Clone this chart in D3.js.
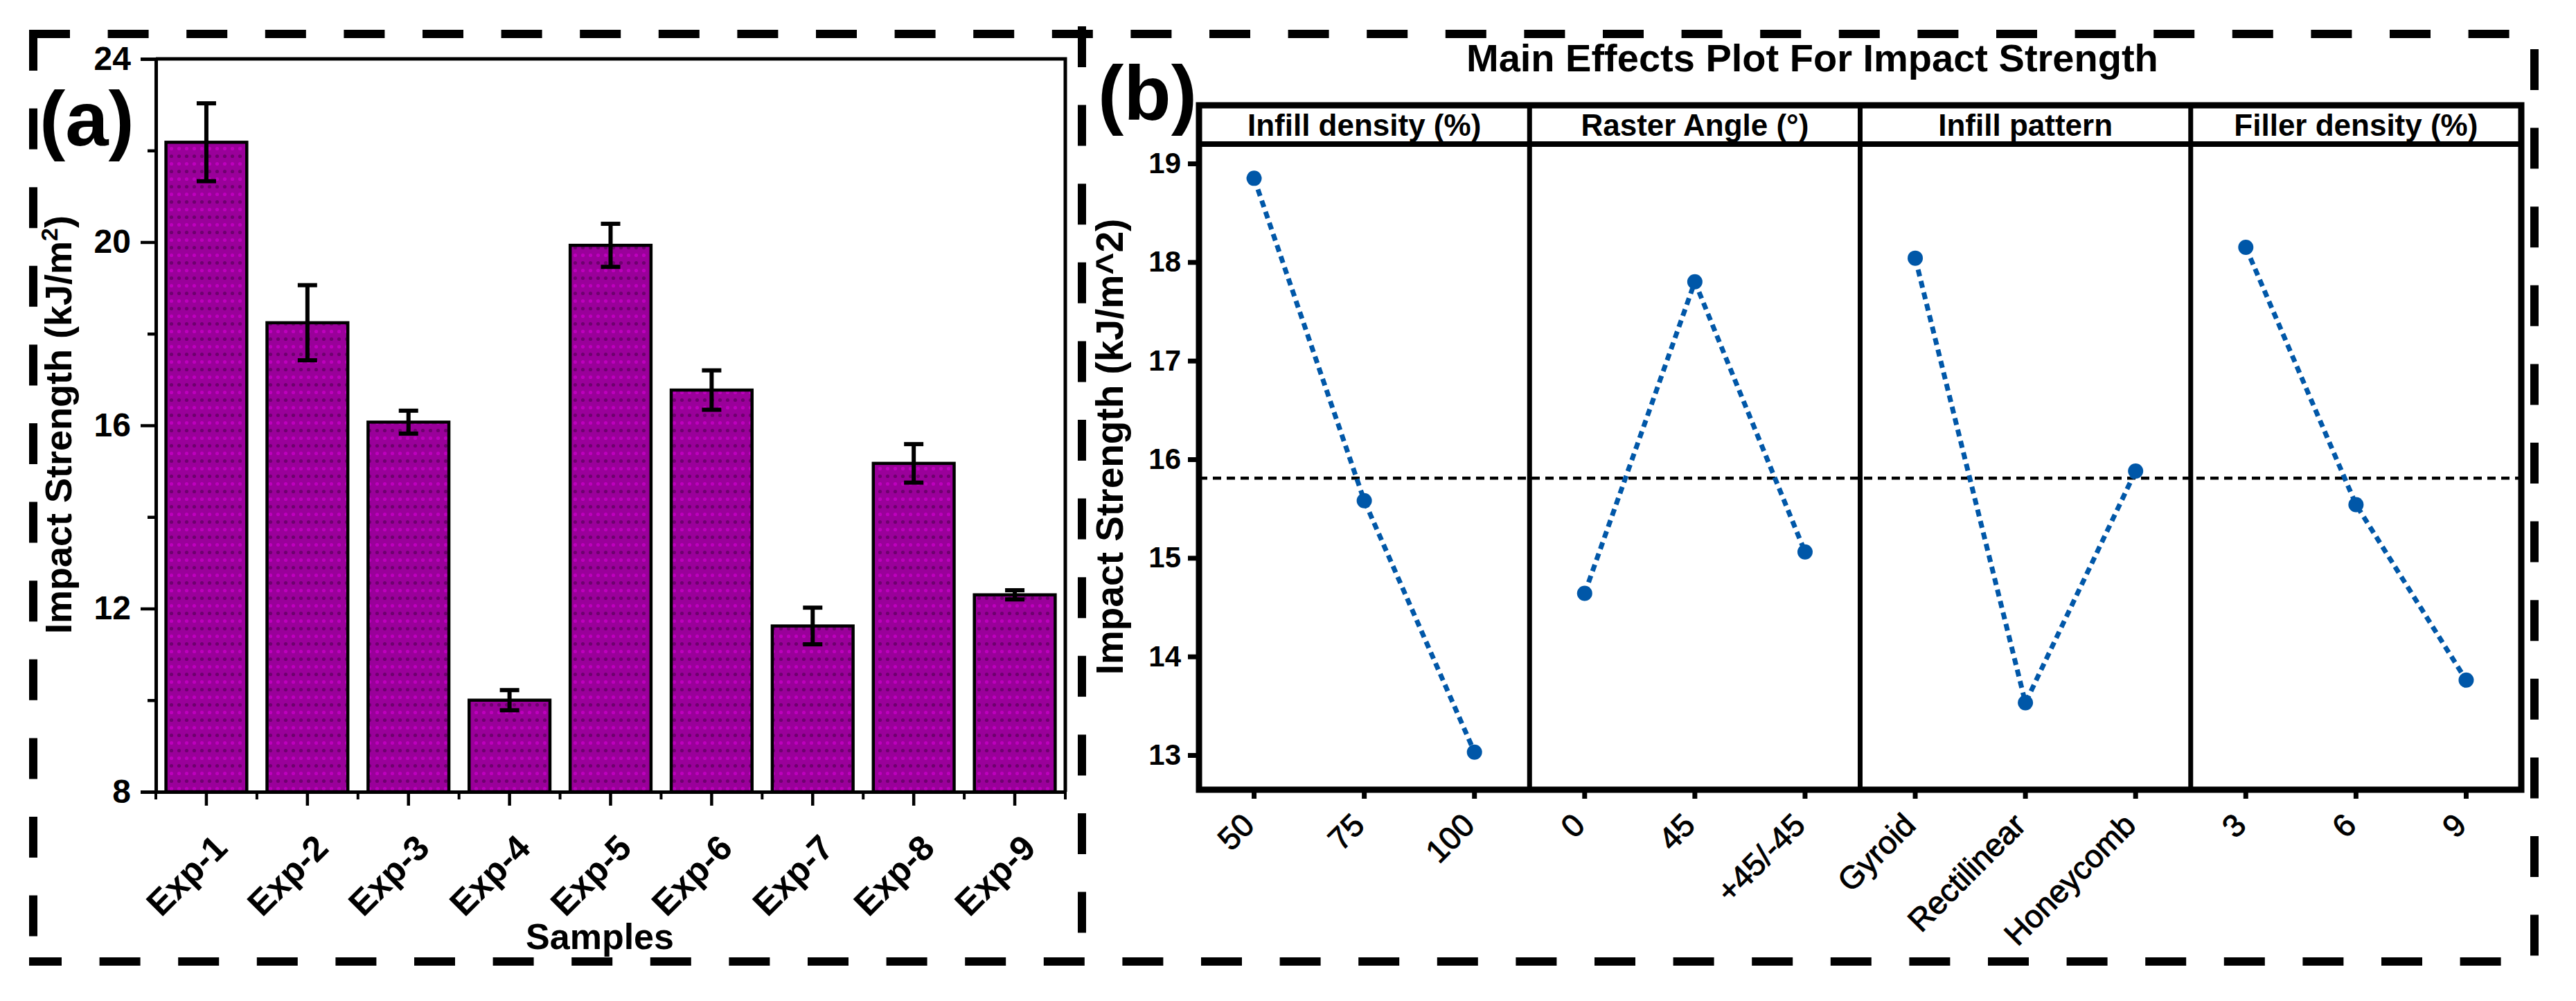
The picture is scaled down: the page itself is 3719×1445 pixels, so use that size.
<!DOCTYPE html>
<html>
<head>
<meta charset="utf-8">
<script src="https://cdn.jsdelivr.net/npm/d3@7"></script>
<style>
  body { margin: 0; background: #fff; }
  text { font-family: "Liberation Sans", Arial, sans-serif; }
</style>
</head>
<body>
<div id="chart"></div>
<script>
// ---- data ----
var samples = ["Exp-1", "Exp-2", "Exp-3", "Exp-4", "Exp-5", "Exp-6", "Exp-7", "Exp-8", "Exp-9"];
var impact = [22.18, 18.24, 16.07, 10.0, 19.93, 16.77, 11.62, 15.17, 12.30];
var impactErr = [0.85, 0.82, 0.25, 0.22, 0.47, 0.43, 0.40, 0.42, 0.10];
var yTicksA = [8, 12, 16, 20, 24];
var yMinorA = [10, 14, 18, 22];

var factors = ["Infill density (%)", "Raster Angle (°)", "Infill pattern", "Filler density (%)"];
var factorLevels = [["50", "75", "100"], ["0", "45", "+45/-45"], ["Gyroid", "Rectilinear", "Honeycomb"], ["3", "6", "9"]];
var factorMeans = [[18.85, 15.58, 13.03], [14.64, 17.80, 15.06], [18.04, 13.53, 15.88], [18.15, 15.54, 13.76]];
var yTicksB = [13, 14, 15, 16, 17, 18, 19];

var W = 3719, H = 1445;

var svg = d3.select("#chart").append("svg")
    .attr("width", W)
    .attr("height", H);

// bar fill pattern (dotted purple)
var defs = svg.append("defs");
var pat = defs.append("pattern")
    .attr("id", "dots")
    .attr("patternUnits", "userSpaceOnUse")
    .attr("width", 22)
    .attr("height", 22);
pat.append("rect").attr("width", 22).attr("height", 22).attr("fill", "#9a009a");
pat.append("circle").attr("cx", 5.5).attr("cy", 5.5).attr("r", 2.6).attr("fill", "#6f006f");
pat.append("circle").attr("cx", 16.5).attr("cy", 5.5).attr("r", 2.6).attr("fill", "#6f006f");
pat.append("circle").attr("cx", 5.5).attr("cy", 16.5).attr("r", 2.6).attr("fill", "#bd00bd");
pat.append("circle").attr("cx", 16.5).attr("cy", 16.5).attr("r", 2.6).attr("fill", "#bd00bd");

// ---- dashed outer border ----
var border = svg.append("g")
    .attr("fill", "none")
    .attr("stroke", "#000")
    .attr("stroke-width", 12)
    .attr("stroke-dasharray", "59 54.6");
border.append("path").attr("d", "M42,49 H3626");
border.append("path").attr("d", "M48,43 V1360");
border.append("path").attr("d", "M42,1388 H3660").attr("stroke-dashoffset", 12);
border.append("path").attr("d", "M3659,71 V1390");
border.append("path").attr("d", "M1562,38 V1348");

// ****************** panel (a) ***************************
var ax0 = 225, ax1 = 1538, ayTop = 85, ayBot = 1143;

var xa = d3.scaleBand()
    .domain(samples)
    .range([ax0, ax1])
    .paddingInner(0.2)
    .paddingOuter(0.1);

var ya = d3.scaleLinear()
    .domain([8, 24])
    .range([ayBot, ayTop]);

var ga = svg.append("g");

ga.selectAll("rect.bar")
    .data(samples)
    .enter().append("rect")
    .attr("class", "bar")
    .attr("x", function(d) { return xa(d); })
    .attr("width", xa.bandwidth())
    .attr("y", function(d, i) { return ya(impact[i]); })
    .attr("height", function(d, i) { return ya(8) - ya(impact[i]); })
    .attr("fill", "url(#dots)")
    .attr("stroke", "#000")
    .attr("stroke-width", 4.5);

// error bars
var err = ga.selectAll("g.err")
    .data(samples)
    .enter().append("g")
    .attr("class", "err")
    .attr("stroke", "#000")
    .attr("stroke-width", 6);
err.append("line")
    .attr("x1", function(d) { return xa(d) + xa.bandwidth() / 2; })
    .attr("x2", function(d) { return xa(d) + xa.bandwidth() / 2; })
    .attr("y1", function(d, i) { return ya(impact[i] + impactErr[i]); })
    .attr("y2", function(d, i) { return ya(impact[i] - impactErr[i]); });
[1, -1].forEach(function(s) {
  err.append("line")
      .attr("x1", function(d) { return xa(d) + xa.bandwidth() / 2 - 14; })
      .attr("x2", function(d) { return xa(d) + xa.bandwidth() / 2 + 14; })
      .attr("y1", function(d, i) { return ya(impact[i] + s * impactErr[i]); })
      .attr("y2", function(d, i) { return ya(impact[i] + s * impactErr[i]); });
});

// frame top + right
ga.append("path")
    .attr("d", "M" + ax0 + "," + ayTop + " H" + ax1 + " V" + ayBot)
    .attr("fill", "none")
    .attr("stroke", "#000")
    .attr("stroke-width", 5);

// y axis
var yAxisA = ga.append("g")
    .attr("transform", "translate(" + ax0 + ",0)")
    .call(d3.axisLeft(ya).tickValues(yTicksA).tickSize(22).tickPadding(14).tickFormat(d3.format("d")));
ga.append("g")
    .attr("transform", "translate(" + ax0 + ",0)")
    .call(d3.axisLeft(ya).tickValues(yMinorA).tickSize(12).tickFormat(""))
    .select(".domain").remove();

// x axis: major ticks at centres, minor ticks at band edges
var xAxisA = ga.append("g")
    .attr("transform", "translate(0," + ayBot + ")")
    .call(d3.axisBottom(xa).tickSize(20).tickSizeOuter(0).tickFormat(""));
var edges = d3.range(samples.length + 1).map(function(k) {
  return ax0 + k * (ax1 - ax0) / samples.length;
});
ga.selectAll("line.minor-x")
    .data(edges)
    .enter().append("line")
    .attr("class", "minor-x")
    .attr("x1", function(d) { return d; })
    .attr("x2", function(d) { return d; })
    .attr("y1", ayBot)
    .attr("y2", ayBot + 11)
    .attr("stroke", "#000")
    .attr("stroke-width", 4);

ga.selectAll(".domain").attr("stroke-width", 5);
ga.selectAll(".tick line").attr("stroke-width", 4.5);
yAxisA.selectAll("text")
    .attr("font-size", 48)
    .attr("font-weight", "bold")
    .attr("fill", "#000");

ga.selectAll("text.xlab")
    .data(samples)
    .enter().append("text")
    .attr("class", "xlab")
    .attr("transform", function(d) {
      return "translate(" + (xa(d) + xa.bandwidth() / 2 + 33) + ",1227) rotate(-45)";
    })
    .attr("text-anchor", "end")
    .attr("font-size", 51)
    .attr("font-weight", "bold")
    .text(function(d) { return d; });

ga.append("text")
    .attr("x", 866)
    .attr("y", 1370)
    .attr("text-anchor", "middle")
    .attr("font-size", 52)
    .attr("font-weight", "bold")
    .text("Samples");

var ylabA = ga.append("text")
    .attr("transform", "translate(103,613) rotate(-90)")
    .attr("text-anchor", "middle")
    .attr("font-size", 54)
    .attr("font-weight", "bold");
ylabA.append("tspan").text("Impact Strength (kJ/m");
ylabA.append("tspan").attr("dy", -20).attr("font-size", 34).text("2");
ylabA.append("tspan").attr("dy", 20).text(")");

svg.append("text")
    .attr("x", 57)
    .attr("y", 210)
    .attr("font-size", 112)
    .attr("font-weight", "bold")
    .text("(a)");

// ****************** panel (b) ***************************
var bx0 = 1731, bx1 = 3640, bTop = 152, bHead = 208, bBot = 1140;
var blue = "#0057a8";

var yb = d3.scaleLinear()
    .domain([13, 19])
    .range([1090, 236]);

var xPanel = d3.scaleBand()
    .domain(factors)
    .range([bx0, bx1]);

var gb = svg.append("g");

svg.append("text")
    .attr("x", 2117)
    .attr("y", 103)
    .attr("font-size", 56)
    .attr("font-weight", "bold")
    .text("Main Effects Plot For Impact Strength");

svg.append("text")
    .attr("x", 1585)
    .attr("y", 173)
    .attr("font-size", 112)
    .attr("font-weight", "bold")
    .text("(b)");

// mean reference line
var grandMean = d3.mean(impact);
gb.append("line")
    .attr("x1", bx0)
    .attr("x2", bx1)
    .attr("y1", yb(grandMean))
    .attr("y2", yb(grandMean))
    .attr("stroke", "#000")
    .attr("stroke-width", 4.5)
    .attr("stroke-dasharray", "12 8");

factors.forEach(function(f, k) {
  var p0 = xPanel(f), p1 = p0 + xPanel.bandwidth();
  var xl = d3.scaleBand().domain(factorLevels[k]).range([p0, p1]);
  var pts = factorLevels[k].map(function(l, j) {
    return [xl(l) + xl.bandwidth() / 2, yb(factorMeans[k][j])];
  });

  gb.append("path")
      .attr("d", d3.line()(pts))
      .attr("fill", "none")
      .attr("stroke", blue)
      .attr("stroke-width", 7)
      .attr("stroke-dasharray", "10 7");

  gb.selectAll("circle.p" + k)
      .data(pts)
      .enter().append("circle")
      .attr("class", "p" + k)
      .attr("cx", function(d) { return d[0]; })
      .attr("cy", function(d) { return d[1]; })
      .attr("r", 11)
      .attr("fill", blue);

  // x ticks + labels
  gb.append("g")
      .attr("transform", "translate(0," + bBot + ")")
      .call(d3.axisBottom(xl).tickSize(13).tickSizeOuter(0).tickFormat(""))
      .call(function(g) { g.select(".domain").remove(); })
      .selectAll("line").attr("stroke-width", 7);

  gb.selectAll("text.bx" + k)
      .data(factorLevels[k])
      .enter().append("text")
      .attr("class", "bx" + k)
      .attr("transform", function(d) {
        return "translate(" + (xl(d) + xl.bandwidth() / 2 + 3) + ",1194) rotate(-45)";
      })
      .attr("text-anchor", "end")
      .attr("font-size", 46)
      .attr("stroke", "#000")
      .attr("stroke-width", 1)
      .text(function(d) { return d; });

  // header
  gb.append("text")
      .attr("x", (p0 + p1) / 2)
      .attr("y", 196)
      .attr("text-anchor", "middle")
      .attr("font-size", 44)
      .attr("font-weight", "bold")
      .text(f);

  if (k > 0) {
    gb.append("line")
        .attr("x1", p0).attr("x2", p0)
        .attr("y1", bTop).attr("y2", bBot)
        .attr("stroke", "#000")
        .attr("stroke-width", 7);
  }
});

// frame + header strip
gb.append("rect")
    .attr("x", bx0).attr("y", bTop)
    .attr("width", bx1 - bx0).attr("height", bBot - bTop)
    .attr("fill", "none")
    .attr("stroke", "#000")
    .attr("stroke-width", 9);
gb.append("line")
    .attr("x1", bx0).attr("x2", bx1)
    .attr("y1", bHead).attr("y2", bHead)
    .attr("stroke", "#000")
    .attr("stroke-width", 8);

// y axis
var yAxisB = gb.append("g")
    .attr("transform", "translate(" + (bx0 - 4) + ",0)")
    .call(d3.axisLeft(yb).tickValues(yTicksB).tickSize(12).tickPadding(10).tickFormat(d3.format("d")));
yAxisB.select(".domain").remove();
yAxisB.selectAll("line").attr("stroke-width", 7);
yAxisB.selectAll("text")
    .attr("font-size", 42)
    .attr("font-weight", "bold")
    .attr("fill", "#000");

gb.append("text")
    .attr("transform", "translate(1621,645) rotate(-90)")
    .attr("text-anchor", "middle")
    .attr("font-size", 55)
    .attr("font-weight", "bold")
    .text("Impact Strength (kJ/m^2)");
</script>
</body>
</html>
